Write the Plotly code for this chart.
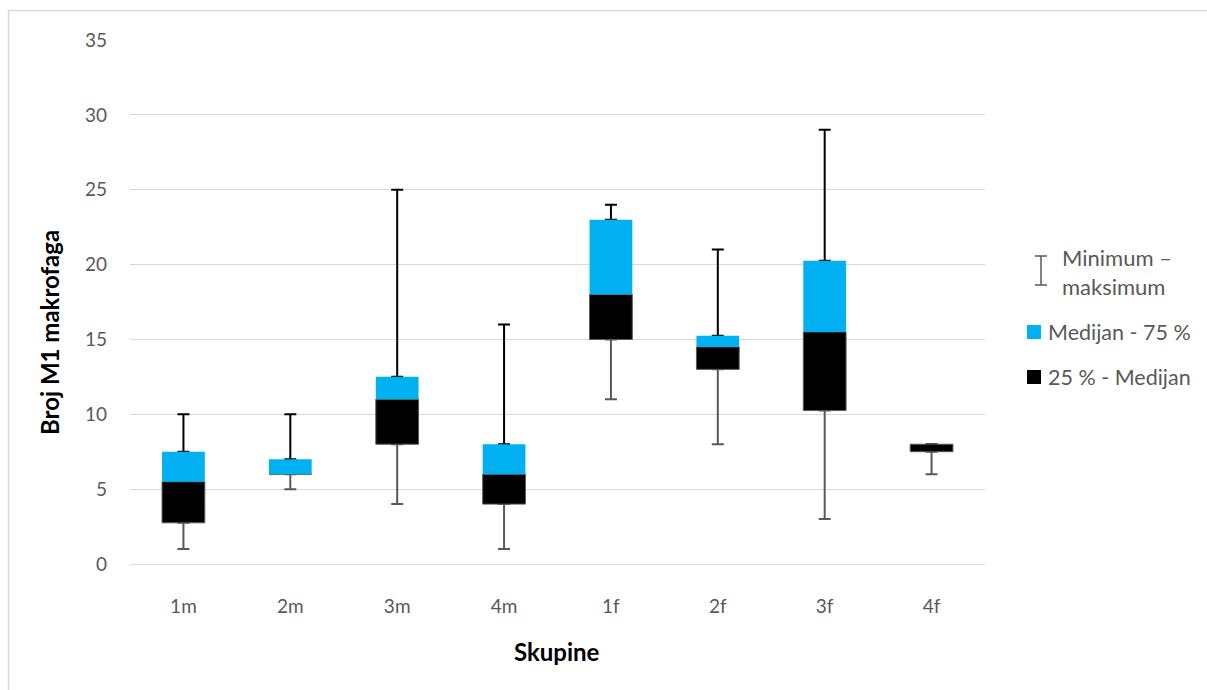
import plotly.graph_objects as go

# ---- data ----
groups = ["1m", "2m", "3m", "4m", "1f", "2f", "3f", "4f"]
minimum = [1, 5, 4, 1, 11, 8, 3, 6]
q1 = [2.75, 6, 8, 4, 15, 13, 10.25, 7.5]
median = [5.5, 6, 11, 6, 18, 14.5, 15.5, 8]
q3 = [7.5, 7, 12.5, 8, 23, 15.25, 20.25, 8]
maximum = [10, 10, 25, 16, 24, 21, 29, 8]
y_ticks = [0, 5, 10, 15, 20, 25, 30, 35]

legend_minmax = "Minimum –<br>maksimum"
legend_upper = "Medijan - 75 %"
legend_lower = "25 % - Medijan"
x_title = "Skupine"
y_title = "Broj M1 makrofaga"

# ---- layout geometry ----
W, H = 1207, 690
L, R, T, B = 130, 222, 40, 126
PW, PH = W - L - R, H - T - B
FONT = "Lato, 'Open Sans', Arial, sans-serif"
GRAY = "#595959"
BLUE = "#00B0F0"


def px(x):
    return (x - L) / PW


def py(y):
    return (H - B - y) / PH


upper_err = [mx - u for mx, u in zip(maximum, q3)]
lower_err = [q - mn for q, mn in zip(q1, minimum)]
lower_h = [m - q for m, q in zip(median, q1)]
upper_h = [u - m for u, m in zip(q3, median)]

fig = go.Figure()
# invisible carrier for upper whisker (drawn first, so bars cover its foot)
fig.add_trace(go.Bar(
    x=groups, y=q3, width=0.4, marker=dict(color="rgba(0,0,0,0)", line=dict(width=0)),
    error_y=dict(type="data", symmetric=False, array=upper_err, arrayminus=[0] * len(groups),
                 color="#000000", thickness=2, width=6),
    showlegend=False, hoverinfo="skip"))
# invisible carrier for lower whisker
fig.add_trace(go.Bar(
    x=groups, y=q1, width=0.4, marker=dict(color="rgba(0,0,0,0)", line=dict(width=0)),
    error_y=dict(type="data", symmetric=False, array=[0] * len(groups), arrayminus=lower_err,
                 color=GRAY, thickness=2, width=6),
    showlegend=False, hoverinfo="skip"))
# 25 % - median
fig.add_trace(go.Bar(
    x=groups, y=lower_h, base=q1, width=0.4, name=legend_lower,
    marker=dict(color="#000000", line=dict(color=GRAY, width=1)), showlegend=False))
# median - 75 %
fig.add_trace(go.Bar(
    x=groups, y=upper_h, base=median, width=0.4, name=legend_upper,
    marker=dict(color=BLUE, line=dict(width=0)), showlegend=False))

shapes = [
    # outer chart border
    dict(type="rect", xref="paper", yref="paper", x0=px(8.5), x1=px(1300), y0=py(800), y1=py(10.5),
         line=dict(color="#d9d9d9", width=1.5), fillcolor="rgba(0,0,0,0)", layer="below"),
    # legend: min-max icon
    dict(type="line", xref="paper", yref="paper", x0=px(1041), x1=px(1041), y0=py(256), y1=py(285),
         line=dict(color=GRAY, width=1.5)),
    dict(type="line", xref="paper", yref="paper", x0=px(1035), x1=px(1047), y0=py(256), y1=py(256),
         line=dict(color=GRAY, width=1.5)),
    dict(type="line", xref="paper", yref="paper", x0=px(1035), x1=px(1047), y0=py(285), y1=py(285),
         line=dict(color=GRAY, width=1.5)),
    # legend squares
    dict(type="rect", xref="paper", yref="paper", x0=px(1027), x1=px(1041), y0=py(339), y1=py(325),
         fillcolor=BLUE, line=dict(width=0)),
    dict(type="rect", xref="paper", yref="paper", x0=px(1027), x1=px(1041), y0=py(384), y1=py(370),
         fillcolor="#000000", line=dict(width=0)),
]

annotations = [
    dict(text=legend_minmax, xref="paper", yref="paper", x=px(1060), y=py(272), xanchor="left",
         yanchor="middle", showarrow=False, align="left", font=dict(family=FONT, size=22, color=GRAY)),
    dict(text=legend_upper, xref="paper", yref="paper", x=px(1046), y=py(332), xanchor="left",
         yanchor="middle", showarrow=False, font=dict(family=FONT, size=21.5, color=GRAY)),
    dict(text=legend_lower, xref="paper", yref="paper", x=px(1046), y=py(377), xanchor="left",
         yanchor="middle", showarrow=False, font=dict(family=FONT, size=21.5, color=GRAY)),
    dict(text="<b>" + x_title + "</b>", xref="paper", yref="paper", x=px(557), y=py(651),
         xanchor="center", yanchor="middle", showarrow=False, font=dict(family=FONT, size=24, color="#000000")),
    dict(text="<b>" + y_title + "</b>", xref="paper", yref="paper", x=px(49), y=py(333),
         xanchor="center", yanchor="middle", showarrow=False, textangle=-90,
         font=dict(family=FONT, size=24, color="#000000")),
]

fig.update_layout(
    width=W, height=H, margin=dict(l=L, r=R, t=T, b=B),
    barmode="overlay", bargap=0.6,
    paper_bgcolor="white", plot_bgcolor="white",
    font=dict(family=FONT, size=19, color=GRAY),
    showlegend=False, shapes=shapes, annotations=annotations,
    xaxis=dict(type="category", categoryorder="array", categoryarray=groups,
               showgrid=False, showline=False, zeroline=False,
               ticks="outside", ticklen=25, tickcolor="rgba(0,0,0,0)",
               tickfont=dict(family=FONT, size=19, color=GRAY)),
    yaxis=dict(range=[0, 35], tickvals=y_ticks, showgrid=True, gridcolor="#d9d9d9", gridwidth=1.3,
               zeroline=True, zerolinecolor="#d9d9d9", zerolinewidth=1.3, showline=False,
               ticks="", ticklabelstandoff=22,
               tickfont=dict(family=FONT, size=19, color=GRAY)),
)

fig.write_html("out.html", config={"displayModeBar": False},
               post_script="document.body.style.margin='0';document.body.style.overflow='hidden';")
